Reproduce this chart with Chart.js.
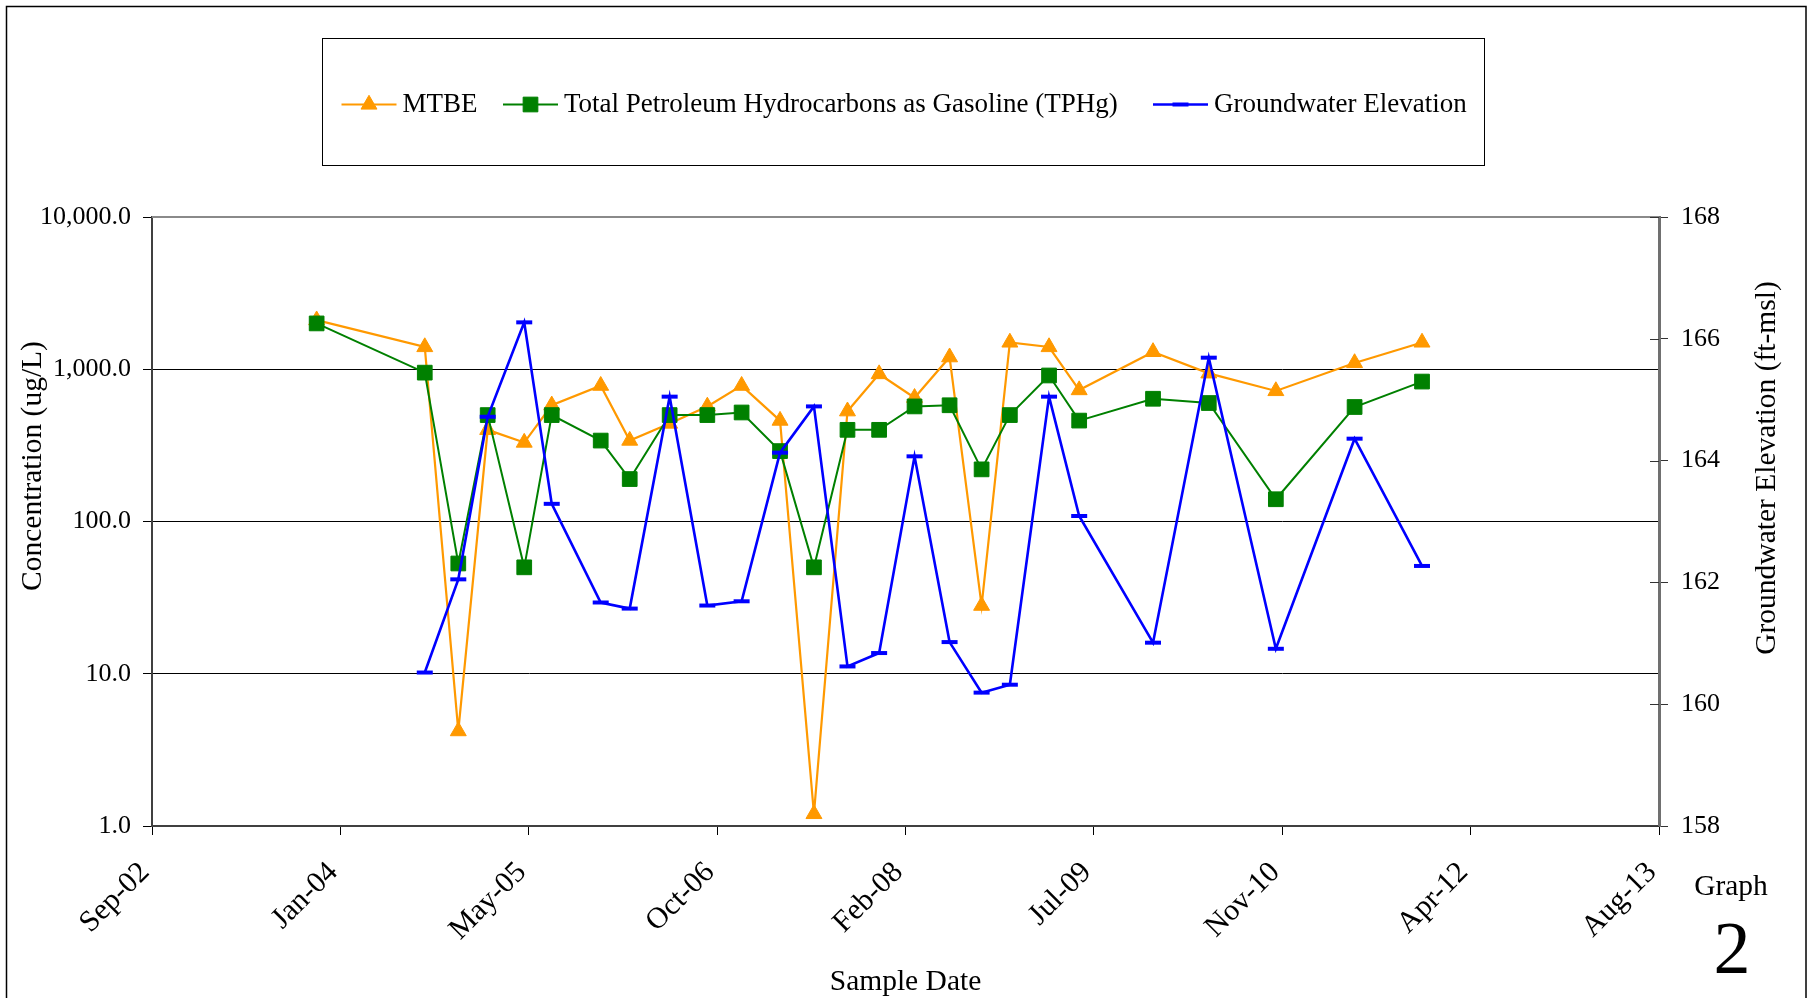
<!DOCTYPE html>
<html>
<head>
<meta charset="utf-8">
<title>Graph 2</title>
<script src="https://cdn.jsdelivr.net/npm/chart.js@4.4.0/dist/chart.umd.min.js"></script>
<style>
  html, body { margin: 0; padding: 0; background: #fff; }
  canvas { display: block; }
</style>
</head>
<body>
<canvas id="graph" width="1813" height="998"></canvas>
<script>
// sample dates and results
const sampleDates = [
  '2003-11-12', '2004-08-25', '2004-11-22', '2005-02-08', '2005-05-16', '2005-07-28',
  '2005-12-05', '2006-02-20', '2006-06-06', '2006-09-14', '2006-12-14', '2007-03-26',
  '2007-06-24', '2007-09-21', '2007-12-14', '2008-03-17', '2008-06-18', '2008-09-11',
  '2008-11-25', '2009-03-09', '2009-05-28', '2009-12-10', '2010-05-07', '2010-11-01',
  '2011-05-29', '2011-11-24'
];
const mtbe = [
  2100, 1400, 4.2, 400, 330, 580,
  780, 340, 440, 570, 780, 460,
  1.2, 530, 930, 650, 1200, 28,
  1500, 1400, 730, 1300, 940, 720,
  1100, 1500
];
const tphg = [
  2000, 950, 53, 500, 50, 500,
  340, 190, 500, 500, 520, 290,
  50, 400, 400, 570, 580, 220,
  500, 910, 460, 640, 600, 140,
  565, 830
];
const gwElevation = [
  null, 160.52, 162.05, 164.72, 166.27, 163.29,
  161.67, 161.57, 165.05, 161.62, 161.69, 164.13,
  164.89, 160.62, 160.84, 164.07, 161.02, 160.19,
  160.32, 165.05, 163.09, 161.01, 165.69, 160.91,
  164.36, 162.27
];

// axes (x in Excel day serials, so ticks land on the same days as the original)
const dateTicks = [37500, 38000, 38500, 39000, 39500, 40000, 40500, 41000, 41500];
const dateTickLabels = ['Sep-02', 'Jan-04', 'May-05', 'Oct-06', 'Feb-08', 'Jul-09', 'Nov-10', 'Apr-12', 'Aug-13'];
const concTicks = [1, 10, 100, 1000, 10000];
const concTickLabels = ['1.0', '10.0', '100.0', '1,000.0', '10,000.0'];
const elevTicks = [158, 160, 162, 164, 166, 168];
const elevTickLabels = ['158', '160', '162', '164', '166', '168'];

const FONT = "'Liberation Serif', 'Times New Roman', serif";

function toSerial(s) {
  const [y, m, d] = s.split('-').map(Number);
  return (Date.UTC(y, m - 1, d) - Date.UTC(1899, 11, 30)) / 86400000;
}

function points(values) {
  return sampleDates.map((d, i) => ({ x: toSerial(d), y: values[i] }));
}

const legendItems = [
  { x: 341.5, lineW: 55 },
  { x: 503, lineW: 55 },
  { x: 1153, lineW: 55 }
];

const framePlugin = {
  id: 'frame',
  beforeDraw(chart) {
    const ctx = chart.ctx;
    ctx.save();
    ctx.fillStyle = '#fff';
    ctx.fillRect(0, 0, chart.width, chart.height);
    ctx.restore();
  },
  afterDraw(chart) {
    const ctx = chart.ctx;
    const a = chart.chartArea;
    ctx.save();

    // outer border of the chart
    ctx.strokeStyle = '#000';
    ctx.lineWidth = 1.5;
    ctx.strokeRect(6.5, 6.5, 1799.5, 1020);

    // top edge of plot area
    ctx.strokeStyle = '#8a8a8a';
    ctx.lineWidth = 2;
    ctx.beginPath();
    ctx.moveTo(a.left, a.top);
    ctx.lineTo(a.right, a.top);
    ctx.stroke();

    // inner half of the right axis tick marks
    const y2 = chart.scales.y2;
    ctx.strokeStyle = '#333';
    ctx.lineWidth = 1;
    y2.ticks.forEach(t => {
      const py = Math.round(y2.getPixelForValue(t.value)) + 0.5;
      ctx.beginPath();
      ctx.moveTo(a.right - 9, py);
      ctx.lineTo(a.right, py);
      ctx.stroke();
    });

    // legend box
    ctx.strokeStyle = '#000';
    ctx.lineWidth = 1;
    ctx.strokeRect(322.5, 38.5, 1162, 127);

    const ly = 104.5;
    ctx.font = '27px ' + FONT;
    ctx.textBaseline = 'middle';
    ctx.textAlign = 'left';
    chart.data.datasets.forEach((ds, i) => {
      const it = legendItems[i];
      ctx.strokeStyle = ds.borderColor;
      ctx.lineWidth = ds.borderWidth;
      ctx.beginPath();
      ctx.moveTo(it.x, ly);
      ctx.lineTo(it.x + it.lineW, ly);
      ctx.stroke();
      ctx.fillStyle = ds.backgroundColor;
      ctx.strokeStyle = ds.borderColor;
      ctx.lineWidth = ds.pointBorderWidth;
      Chart.helpers.drawPoint(ctx, {
        pointStyle: ds.pointStyle,
        radius: ds.pointRadius,
        borderWidth: ds.pointBorderWidth,
        rotation: 0
      }, it.x + it.lineW / 2, ly);
      ctx.fillStyle = '#000';
      ctx.fillText(ds.label, it.x + it.lineW + 6, ly);
    });

    // vertical axis titles
    ctx.font = '29.5px ' + FONT;
    ctx.textAlign = 'center';
    ctx.fillStyle = '#000';
    ctx.save();
    ctx.translate(33, 466);
    ctx.rotate(-Math.PI / 2);
    ctx.fillText('Concentration (ug/L)', 0, 0);
    ctx.restore();
    ctx.save();
    ctx.translate(1767, 468);
    ctx.rotate(-Math.PI / 2);
    ctx.fillText('Groundwater Elevation (ft-msl)', 0, 0);
    ctx.restore();

    // graph number
    ctx.font = '29.5px ' + FONT;
    ctx.fillText('Graph', 1731, 887);
    ctx.font = '74px ' + FONT;
    ctx.fillText('2', 1732, 954);

    ctx.restore();
  }
};

new Chart(document.getElementById('graph'), {
  type: 'line',
  data: {
    datasets: [
      {
        label: 'MTBE',
        data: points(mtbe),
        yAxisID: 'y',
        borderColor: '#FF9900',
        backgroundColor: '#FF9900',
        borderWidth: 2.2,
        pointStyle: 'triangle',
        pointRadius: 9.2,
        pointHoverRadius: 9.2,
        pointBorderWidth: 1,
        order: 3
      },
      {
        label: 'Total Petroleum Hydrocarbons as Gasoline (TPHg)',
        data: points(tphg),
        yAxisID: 'y',
        borderColor: '#008000',
        backgroundColor: '#008000',
        borderWidth: 2,
        pointStyle: 'rect',
        pointRadius: 10.4,
        pointHoverRadius: 10.4,
        pointBorderWidth: 1,
        order: 2
      },
      {
        label: 'Groundwater Elevation',
        data: points(gwElevation),
        yAxisID: 'y2',
        borderColor: '#0000FF',
        backgroundColor: '#0000FF',
        borderWidth: 2.6,
        pointStyle: 'line',
        pointRadius: 8,
        pointHoverRadius: 8,
        pointBorderWidth: 4,
        order: 1
      }
    ]
  },
  options: {
    responsive: false,
    animation: false,
    devicePixelRatio: 1,
    events: [],
    layout: { padding: { top: 217, left: 0, right: 0, bottom: 0 } },
    plugins: {
      legend: { display: false },
      tooltip: { enabled: false }
    },
    scales: {
      x: {
        type: 'linear',
        position: 'bottom',
        min: dateTicks[0],
        max: dateTicks[dateTicks.length - 1],
        afterBuildTicks: axis => { axis.ticks = dateTicks.map(v => ({ value: v })); },
        afterFit: axis => { axis.height = 172; },
        ticks: {
          autoSkip: false,
          minRotation: 45,
          maxRotation: 45,
          padding: 20,
          labelOffset: -7,
          color: '#000',
          font: { family: FONT, size: 30 },
          callback: (v, i) => dateTickLabels[i]
        },
        grid: { drawOnChartArea: false, drawTicks: true, tickLength: 9, color: '#000' },
        border: { color: '#404040', width: 2 },
        title: {
          display: true,
          text: 'Sample Date',
          color: '#000',
          font: { family: FONT, size: 29.5 },
          padding: { top: 0, bottom: -2 }
        }
      },
      y: {
        type: 'logarithmic',
        position: 'left',
        min: concTicks[0],
        max: concTicks[concTicks.length - 1],
        afterBuildTicks: axis => { axis.ticks = concTicks.map(v => ({ value: v })); },
        afterFit: axis => { axis.width = 152; },
        ticks: {
          padding: 12,
          color: '#000',
          font: { family: FONT, size: 26 },
          callback: (v, i) => concTickLabels[i]
        },
        grid: { color: '#000', lineWidth: 1, tickLength: 9 },
        border: { color: '#404040', width: 2 }
      },
      y2: {
        type: 'linear',
        position: 'right',
        min: elevTicks[0],
        max: elevTicks[elevTicks.length - 1],
        afterBuildTicks: axis => { axis.ticks = elevTicks.map(v => ({ value: v })); },
        afterFit: axis => { axis.width = 154; },
        ticks: {
          padding: 13,
          color: '#000',
          font: { family: FONT, size: 26 },
          callback: (v, i) => elevTickLabels[i]
        },
        grid: { drawOnChartArea: false, drawTicks: true, tickLength: 9, color: '#333' },
        border: { color: '#707070', width: 3 }
      }
    }
  },
  plugins: [framePlugin]
});
</script>
</body>
</html>
